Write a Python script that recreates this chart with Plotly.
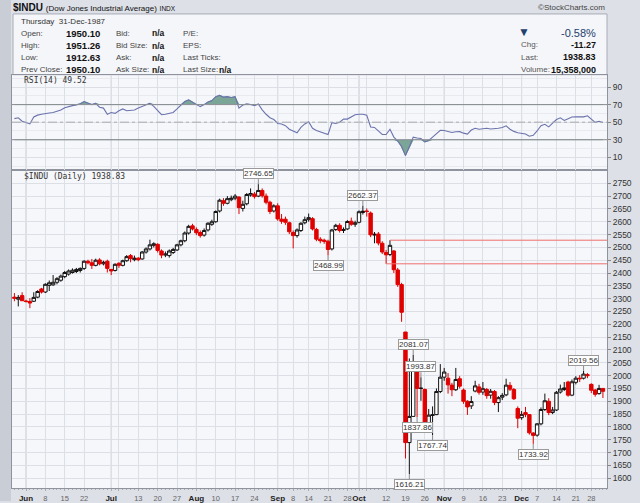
import plotly.graph_objects as go

W, H = 640, 503

# daily $INDU, 27-May-1987 .. 31-Dec-1987 (one entry per trading day)
open_ = [2306, 2298, 2312, 2291, 2289, 2290, 2306, 2338, 2326, 2352,
         2354, 2364, 2372, 2386, 2396, 2402, 2406, 2410, 2418, 2446,
         2440, 2430, 2451, 2436, 2446, 2414, 2410, 2438, 2430, 2448,
         2468, 2452, 2458, 2455, 2482, 2494, 2508, 2512, 2486, 2470,
         2468, 2480, 2490, 2510, 2526, 2556, 2584, 2570, 2558, 2548,
         2568, 2590, 2600, 2642, 2682, 2672, 2686, 2692, 2696, 2652,
         2670, 2704, 2708, 2700, 2722, 2700, 2676, 2642, 2662, 2610,
         2610, 2596, 2558, 2546, 2566, 2596, 2608, 2612, 2570, 2532,
         2528, 2524, 2494, 2570, 2586, 2566, 2572, 2602, 2590, 2598,
         2636, 2642, 2634, 2548, 2552, 2516, 2480, 2472, 2486, 2412,
         2355, 2170, 1739, 1841, 2028, 1950, 1946, 1808, 1845, 1848,
         1938, 1994, 1990, 1963, 1945, 1988, 1944, 1900, 1882, 1940,
         1956, 1936, 1946, 1924, 1938, 1895, 1916, 1925, 1962, 1946,
         1872, 1836, 1856, 1848, 1776, 1768, 1812, 1868, 1900, 1856,
         1866, 1936, 1946, 1975, 1924, 1974, 1990, 1990, 2004, 1966,
         1944, 1930, 1950.10]
high = [2322, 2314, 2325, 2296, 2302, 2325, 2333, 2342, 2360, 2371,
        2392, 2384, 2394, 2408, 2414, 2418, 2420, 2422, 2450, 2452,
        2455, 2456, 2458, 2448, 2452, 2416, 2438, 2442, 2452, 2470,
        2474, 2468, 2462, 2486, 2500, 2530, 2520, 2516, 2492, 2484,
        2492, 2498, 2514, 2530, 2562, 2588, 2592, 2578, 2566, 2574,
        2598, 2608, 2644, 2690, 2692, 2700, 2702, 2708, 2700, 2682,
        2712, 2730, 2716, 2746.65, 2730, 2710, 2682, 2668, 2672, 2630,
        2620, 2600, 2566, 2574, 2598, 2620, 2632, 2618, 2576, 2540,
        2534, 2530, 2572, 2592, 2594, 2578, 2606, 2616, 2604, 2644,
        2662.37, 2652, 2640, 2560, 2560, 2524, 2490, 2528, 2490, 2420,
        2362, 2170, 2067, 2081.07, 2028, 1993.87, 1950, 1870, 1880, 1950,
        2045, 2030, 2010, 1972, 2030, 1998, 1950, 1904, 1920, 1980,
        1968, 1975, 1952, 1948, 1944, 1920, 1932, 1988, 1975, 1952,
        1880, 1862, 1878, 1850, 1780, 1815, 1876, 1930, 1912, 1878,
        1940, 1965, 1975, 1980, 1985, 1998, 2002, 2019.56, 2010, 1970,
        1948, 1964, 1951.26]
low = [2290, 2270, 2293, 2285, 2263, 2287, 2302, 2320, 2322, 2330,
       2350, 2356, 2366, 2380, 2390, 2398, 2400, 2402, 2412, 2434,
       2416, 2426, 2430, 2430, 2402, 2392, 2406, 2420, 2426, 2444,
       2442, 2446, 2446, 2452, 2476, 2488, 2500, 2480, 2458, 2462,
       2460, 2474, 2486, 2504, 2520, 2550, 2566, 2548, 2538, 2542,
       2562, 2584, 2596, 2636, 2662, 2668, 2680, 2684, 2630, 2640,
       2664, 2698, 2690, 2696, 2694, 2668, 2630, 2636, 2604, 2592,
       2588, 2552, 2496, 2538, 2560, 2590, 2600, 2566, 2524, 2516,
       2514, 2468.99, 2488, 2564, 2558, 2556, 2568, 2584, 2580, 2594,
       2628, 2620, 2540, 2516, 2508, 2474, 2436, 2466, 2400, 2346,
       2210, 1677, 1616.21, 1841, 1837.86, 1902, 1780, 1780, 1767.74, 1846,
       1932, 1980, 1930, 1920, 1940, 1950, 1890, 1847, 1870, 1935,
       1926, 1925, 1910, 1910, 1885, 1858, 1905, 1920, 1940, 1905,
       1795, 1828, 1838, 1770, 1733.92, 1762, 1806, 1862, 1846, 1850,
       1862, 1930, 1940, 1918, 1920, 1966, 1975, 1985, 1990, 1932,
       1918, 1926, 1912.63]
close = [2302, 2305, 2292, 2289, 2283, 2305, 2328, 2326, 2356, 2362,
         2364, 2378, 2388, 2402, 2408, 2411, 2414, 2418, 2446, 2440,
         2430, 2450, 2436, 2442, 2418, 2408, 2434, 2430, 2448, 2464,
         2456, 2458, 2452, 2482, 2494, 2510, 2514, 2488, 2470, 2474,
         2486, 2492, 2510, 2526, 2556, 2582, 2572, 2557, 2546, 2566,
         2594, 2600, 2640, 2684, 2672, 2690, 2692, 2700, 2655, 2668,
         2706, 2710, 2698, 2722, 2701, 2676, 2640, 2662, 2611, 2602,
         2598, 2561, 2546, 2568, 2594, 2608, 2616, 2572, 2532, 2526,
         2524, 2492, 2568, 2586, 2566, 2570, 2601, 2590, 2596, 2639,
         2641, 2640, 2549, 2551, 2517, 2482, 2471, 2508, 2413, 2355,
         2247, 1739, 1841, 2028, 1950, 1951, 1794, 1846, 1847, 1938,
         1994, 2014, 1964, 1945, 1985, 1959, 1900, 1878, 1899, 1960,
         1935, 1949, 1922, 1939, 1895, 1914, 1923, 1963, 1947, 1910,
         1834, 1849, 1848, 1777, 1767, 1812, 1868, 1902, 1856, 1866,
         1935, 1948, 1952, 1924, 1976, 1990, 1988, 2006, 2000, 1943,
         1927, 1950.10, 1938.83]
rsi = [54, 55, 51, 49.5, 48, 56, 58, 59, 60, 60.5,
       61, 62, 63.8, 66.5, 68, 68.8, 69.5, 71, 73.5, 71.5,
       70, 71.5, 67, 66, 59, 61, 60, 63, 65, 63,
       63.5, 63.8, 66, 68, 70, 71.5, 68, 63, 58.5, 59,
       60, 61, 65, 69, 73.5, 75.4, 73, 70, 67.7, 70,
       73, 74.6, 79, 80.5, 78.5, 79, 78, 79, 66, 69.5,
       70.8, 70, 68.8, 70.8, 64, 59, 55, 53, 48.5, 48,
       46, 42, 40, 38, 44, 48, 50.5, 43, 40.5, 39.2,
       37.5, 36, 49.5, 48.5, 50, 53.5, 53.5, 56, 58.5, 59,
       59, 58, 44.5, 44, 40, 36, 36, 42, 33, 28.5,
       22, 12, 22, 33, 32, 31.5, 27.5, 29.2, 33, 37,
       40.8, 40.5, 39.5, 38.2, 39, 39.2, 37.5, 36.5, 41, 43,
       42, 42.5, 43, 42.2, 42.5, 43, 44, 45.8, 42, 39.5,
       38, 37.5, 36.5, 34, 35, 40, 46, 47.5, 44.6, 49,
       53, 55, 52, 54, 55.8, 56, 55.6, 56, 57.3, 53,
       49.8, 51, 49.52]

tick_pos = [3, 8, 13, 18, 25, 27, 32, 37, 42, 47, 52, 57, 62, 68, 72, 76,
            81, 86, 89, 91, 96, 101, 106, 111, 116, 121, 126, 131, 135,
            140, 145, 149]
tick_text = ['Jun', '8', '15', '22', 'Jul', '', '13', '20', '27', 'Aug',
             '10', '17', '24', 'Sep', '8', '14', '21', '28', 'Oct', '',
             '12', '19', '26', 'Nov', '9', '16', '23', 'Dec', '7', '14',
             '21', '28']
month_names = ['Jun', 'Jul', 'Aug', 'Sep', 'Oct', 'Nov', 'Dec']
price_ticks = list(range(1600, 2751, 50))
rsi_ticks = [10, 30, 50, 70, 90]

swing_highs = [63, 90, 103, 105, 147]
swing_lows = [81, 102, 104, 108, 134]
level_days = [(97, 'high'), (96, 'low')]   # horizontal lines after the Oct 12/13 range


def fx(px):
    return px / W


def fy(px):
    return 1 - px / H


n = len(close)
days = list(range(n))
prev = [open_[0]] + close[:-1]
is_up = [c >= p for c, p in zip(close, prev)]


def pick(flag):
    sel = [i for i in days if is_up[i] == flag]
    return dict(x=sel,
                open=[open_[i] for i in sel],
                high=[high[i] for i in sel],
                low=[low[i] for i in sel],
                close=[close[i] for i in sel])


fig = go.Figure()

# candles: black when close >= prev close, red otherwise; hollow when close > open
for flag, col in [(True, '#111111'), (False, '#e00000')]:
    fig.add_trace(go.Candlestick(
        **pick(flag),
        increasing=dict(line=dict(color=col, width=1), fillcolor='#ffffff'),
        decreasing=dict(line=dict(color=col, width=1), fillcolor=col),
        whiskerwidth=0, showlegend=False, hoverinfo='skip',
        xaxis='x', yaxis='y'))

# RSI shading above 70 / below 30
fill_col = '#7ba596'
fig.add_trace(go.Scatter(x=days, y=[70] * n, mode='lines', line=dict(width=0),
                         xaxis='x2', yaxis='y2', showlegend=False, hoverinfo='skip'))
fig.add_trace(go.Scatter(x=days, y=[max(v, 70) for v in rsi], mode='lines',
                         line=dict(width=0.6, color='#4f7f6f'), fill='tonexty',
                         fillcolor=fill_col, xaxis='x2', yaxis='y2',
                         showlegend=False, hoverinfo='skip'))
fig.add_trace(go.Scatter(x=days, y=[30] * n, mode='lines', line=dict(width=0),
                         xaxis='x2', yaxis='y2', showlegend=False, hoverinfo='skip'))
fig.add_trace(go.Scatter(x=days, y=[min(v, 30) for v in rsi], mode='lines',
                         line=dict(width=0.6, color='#4f7f6f'), fill='tonexty',
                         fillcolor=fill_col, xaxis='x2', yaxis='y2',
                         showlegend=False, hoverinfo='skip'))
fig.add_trace(go.Scatter(x=days, y=rsi, mode='lines',
                         line=dict(color='#6b73ad', width=1.1),
                         xaxis='x2', yaxis='y2', showlegend=False, hoverinfo='skip'))

tick_labels = []
for t in tick_text:
    if t in month_names:
        tick_labels.append('<b>' + t + '</b>')
    else:
        tick_labels.append('<span style="font-size:7.5px;fill:#666">' + t + '</span>')

grid = '#dcdfe6'
frame = '#8e939e'
xr = [-0.62, 153.05]
xdom = [fx(12), fx(607)]

fig.update_layout(
    width=W, height=H, autosize=False,
    margin=dict(l=0, r=0, t=0, b=0),
    paper_bgcolor='#dde0e7', plot_bgcolor='#f6f7fa',
    font=dict(family='Liberation Sans, Arial', size=9, color='#333'),
    showlegend=False, boxgap=0.12, boxgroupgap=0,
    xaxis=dict(domain=xdom, range=xr, anchor='y', tickmode='array',
               tickvals=tick_pos, ticktext=tick_labels, tickangle=0,
               tickfont=dict(size=8, color='#222'),
               showgrid=True, gridcolor=grid, gridwidth=1, zeroline=False,
               showline=True, linecolor=frame, mirror=True,
               ticks='outside', ticklen=2, tickcolor='#aaa',
               minor=dict(tickmode='linear', tick0=0, dtick=1, ticks='outside',
                          ticklen=1, tickcolor='#aaa', showgrid=False),
               rangeslider=dict(visible=False), fixedrange=True),
    yaxis=dict(domain=[fy(490), fy(171)], range=[1561.7, 2800.5],
               side='right', anchor='x', tickmode='array', tickvals=price_ticks,
               ticktext=[str(v) for v in price_ticks],
               tickfont=dict(size=8.5, color='#333'),
               showgrid=True, gridcolor=grid, zeroline=False,
               showline=True, linecolor=frame, mirror=True,
               ticks='outside', ticklen=3, tickcolor='#888'),
    xaxis2=dict(domain=xdom, range=xr, anchor='y2', matches='x',
                tickmode='array', tickvals=tick_pos, showticklabels=False,
                showgrid=True, gridcolor=grid, zeroline=False,
                showline=True, linecolor=frame, mirror=True, ticks=''),
    yaxis2=dict(domain=[fy(171), fy(75)], range=[-4.8, 104], side='right',
                anchor='x2', tickmode='array', tickvals=rsi_ticks,
                tickfont=dict(size=8.5, color='#333'),
                showgrid=True, gridcolor=grid, zeroline=False,
                showline=True, linecolor=frame, mirror=True,
                ticks='outside', ticklen=3, tickcolor='#888',
                minor=dict(tickmode='array', tickvals=[0, 20, 40, 60, 80, 100],
                           showgrid=True, gridcolor='#e8eaef', ticks='')),
)

shapes = []
# left edge strip
shapes.append(dict(type='rect', xref='paper', yref='paper', x0=0, x1=fx(11),
                   y0=0, y1=1, fillcolor='#c9cdd6', line=dict(width=0), layer='below'))
# header box
shapes.append(dict(type='rect', xref='paper', yref='paper', x0=fx(13), x1=fx(607),
                   y0=fy(75), y1=fy(14), fillcolor='#f5f6f9',
                   line=dict(color='#a7acb7', width=1), layer='below'))
# month separators, a bit darker than the weekly grid
for p, t in zip(tick_pos, tick_text):
    if t in month_names:
        shapes.append(dict(type='line', xref='x', yref='paper', x0=p, x1=p,
                           y0=fy(490), y1=fy(75), line=dict(color='#c6cad2', width=1),
                           layer='below'))
# RSI reference levels
for lvl, dash, col in [(70, 'solid', '#8d8f95'), (30, 'solid', '#8d8f95'), (50, 'dashdot', '#a9abb0')]:
    shapes.append(dict(type='line', xref='paper', yref='y2', x0=xdom[0], x1=xdom[1],
                       y0=lvl, y1=lvl, line=dict(color=col, width=1, dash=dash)))
# horizontal levels from the Oct 12/13 range
for d, kind in level_days:
    v = high[d] if kind == 'high' else low[d]
    shapes.append(dict(type='line', xref='x', yref='y', x0=d, x1=xr[1], y0=v, y1=v,
                       line=dict(color='#ef6f6f', width=1)))
fig.update_layout(shapes=shapes)

ann = []


def txt(x, y, s, size=8, color='#444', anchor='left', family='Liberation Sans, Arial'):
    ann.append(dict(x=fx(x), y=fy(y), xref='paper', yref='paper', text=s,
                    showarrow=False, xanchor=anchor, yanchor='middle',
                    font=dict(size=size, color=color, family=family)))


txt(11, 8, '<b>$INDU</b> <span style="font-size:8px">(Dow Jones Industrial Average)</span>'
           ' <span style="font-size:6.5px">INDX</span>', 10, '#111')
txt(607, 8, '©StockCharts.com', 8, '#444', 'right')

txt(19, 21.5, 'Thursday  31-Dec-1987', 8, '#333')
rows = [('Open:', '1950.10', 'Bid:', 'n/a', 'P/E:', ''),
        ('High:', '1951.26', 'Bid Size:', 'n/a', 'EPS:', ''),
        ('Low:', '1912.63', 'Ask:', 'n/a', 'Last Ticks:', ''),
        ('Prev Close:', '1950.10', 'Ask Size:', 'n/a', 'Last Size:', 'n/a')]
for k, (a, b, c, d, e, f) in enumerate(rows):
    yy = 33.5 + k * 12.2
    txt(19, yy, a, 8, '#444')
    txt(64, yy, '<b>' + b + '</b>', 9.5, '#111')
    txt(114, yy, c, 8, '#444')
    txt(150, yy, '<b>' + d + '</b>', 8.5, '#111')
    txt(181, yy, e, 8, '#444')
    if f:
        txt(217, yy, '<b>' + f + '</b>', 8.5, '#111')

txt(524, 32, '▼', 12, '#24406f', 'center')
txt(598, 33, '-0.58%', 11, '#24406f', 'right')
right_rows = [('Chg:', '-11.27'), ('Last:', '1938.83'), ('Volume:', '15,358,000')]
for k, (a, b) in enumerate(right_rows):
    yy = 45 + k * 12.5
    txt(519, yy, a, 8, '#555')
    txt(598, yy, '<b>' + b + '</b>', 9, '#111', 'right')

mono = 'DejaVu Sans Mono, monospace'
txt(22, 81, 'RSI(14) %.2f' % rsi[-1], 8, '#333', family=mono)
txt(22, 177, '$INDU (Daily) %.2f' % close[-1], 8, '#333', family=mono)

# swing high / low price tags
for d in swing_highs + swing_lows:
    hi = d in swing_highs
    v = high[d] if hi else low[d]
    ann.append(dict(x=d, y=v, xref='x', yref='y', text='%.2f' % v,
                    showarrow=True, arrowhead=0, arrowwidth=1, arrowcolor='#8a8a8a',
                    ax=0, ay=-5 if hi else 5, xanchor='center',
                    yanchor='bottom' if hi else 'top',
                    bgcolor='#ffffff', bordercolor='#9a9a9a', borderwidth=1, borderpad=0,
                    font=dict(size=8, color='#333', family='Liberation Sans, Arial')))

fig.update_layout(annotations=ann)

fig.write_html("out.html", config={'displayModeBar': False},
               post_script="document.body.style.margin='0px';")
